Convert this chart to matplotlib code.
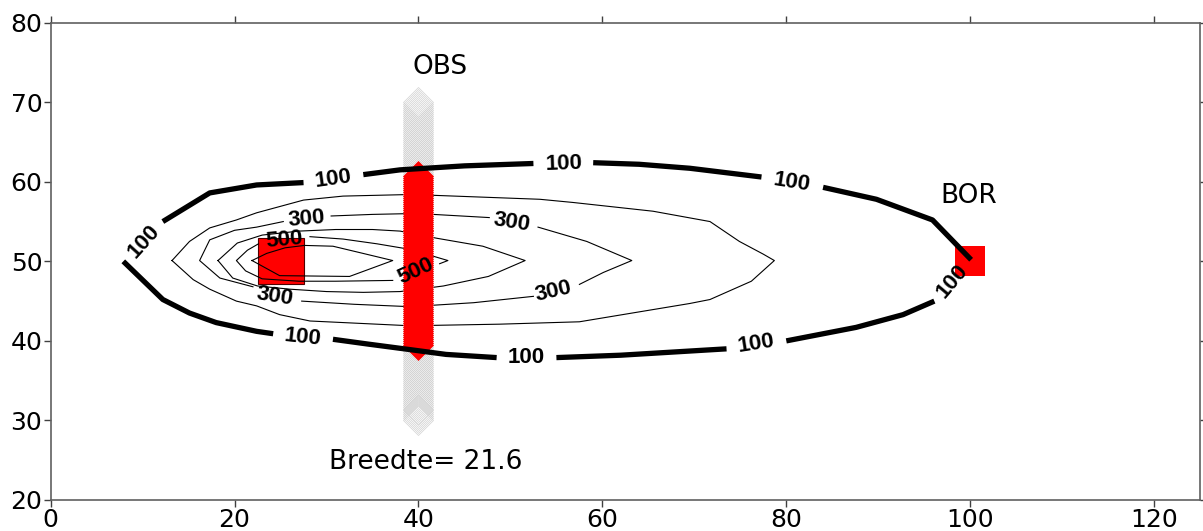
import matplotlib
matplotlib.use('Agg')
import matplotlib.pyplot as plt
import numpy as np

# axis setup
x_ticks = [0, 20, 40, 60, 80, 100, 120]
y_ticks = [20, 30, 40, 50, 60, 70, 80]

# concentration contours (x, y vertices); gaps are where labels sit
c100 = [
    [(12.2, 55.0), (17.3, 58.6), (22.4, 59.6), (27.5, 59.9)],
    [(34.0, 60.9), (38.0, 61.5), (45.0, 62.0), (52.5, 62.3)],
    [(59.0, 62.4), (64.0, 62.2), (69.5, 61.7), (77.3, 60.6)],
    [(84.0, 59.3), (89.8, 57.8), (95.9, 55.2), (100.1, 50.2)],
    [(96.1, 45.0), (92.7, 43.3), (87.6, 41.7), (80.0, 40.0)],
    [(73.5, 39.0), (70.6, 38.8), (62.0, 38.2), (55.0, 37.9)],
    [(48.5, 37.9), (43.0, 38.3), (39.1, 38.9), (34.5, 39.6), (30.7, 40.2)],
    [(24.2, 40.9), (22.4, 41.2), (18.0, 42.3), (15.1, 43.5), (12.2, 45.2), (7.9, 50.0)],
]
c200 = [
    [(13.2, 50.1), (15.1, 52.5), (17.3, 54.2), (20.2, 55.2), (22.4, 56.1), (27.5, 57.7),
     (31.8, 58.2), (39.1, 58.4), (41.6, 58.3), (53.2, 57.8), (56.8, 57.4), (65.5, 56.3),
     (71.7, 55.0), (74.9, 52.5), (77.5, 50.9), (78.7, 50.1), (76.2, 47.5), (71.7, 45.2),
     (69.5, 44.7), (57.5, 42.4), (48.8, 42.1), (39.1, 41.9), (28.2, 42.5), (24.9, 43.3),
     (22.4, 44.4), (20.2, 45.0), (17.3, 46.5), (15.5, 47.7), (13.2, 50.1)],
]
c300 = [
    [(25.3, 55.0), (22.4, 54.3), (20.0, 53.9), (17.3, 52.7), (16.2, 50.1), (18.4, 47.9), (22.0, 46.8)],
    [(30.5, 55.7), (35.0, 55.9), (39.1, 56.0), (41.6, 55.9), (47.7, 55.5)],
    [(53.0, 54.3), (58.3, 52.5), (63.2, 50.1), (60.1, 48.6), (57.5, 47.1)],
    [(52.5, 45.6), (46.0, 44.8), (39.1, 44.3), (33.0, 44.6), (27.3, 45.0)],
]
c400 = [
    [(18.2, 50.1), (20.3, 52.3), (23.0, 53.3), (27.0, 53.8), (31.0, 54.0), (35.0, 54.0),
     (38.0, 53.8), (42.0, 52.9), (47.0, 51.9), (51.6, 50.1), (47.6, 48.1), (42.7, 46.9),
     (38.0, 46.2), (34.0, 46.1), (30.0, 46.2), (26.0, 46.5), (22.5, 46.9), (19.8, 47.9),
     (18.2, 50.1)],
]
c500 = [
    [(22.6, 52.2), (21.4, 51.4), (20.2, 50.1), (21.2, 48.8), (23.0, 47.8), (27.0, 47.5),
     (31.0, 47.5), (37.2, 47.6)],
    [(28.2, 53.1), (31.8, 52.8), (35.5, 52.2), (39.1, 51.5), (43.2, 50.1), (42.3, 49.7)],
]
c600 = [
    [(21.9, 50.1), (23.5, 51.0), (25.5, 51.7), (27.6, 52.0), (30.7, 51.9), (33.6, 51.1),
     (37.2, 50.1), (32.5, 48.1), (24.9, 48.2), (21.9, 50.1)],
]

# contour labels: text, x, y, rotation
clabels = [
    ("100", 10.1, 52.5, 48), ("100", 30.7, 60.3, 8), ("100", 55.8, 62.2, 2),
    ("100", 80.6, 59.9, -9), ("100", 98.1, 47.5, 50), ("100", 76.7, 39.6, 9),
    ("100", 51.7, 37.9, 0), ("100", 27.4, 40.4, -6),
    ("300", 27.8, 55.3, 5), ("300", 50.1, 54.9, -9), ("300", 24.4, 45.6, -9),
    ("300", 54.7, 46.2, 13),
    ("500", 25.4, 52.7, 5), ("500", 39.7, 48.8, 25),
]

# wells: source and receptor
well_x = [25, 100]
well_y = [50, 50]
well_ms = [33, 22]

# observation line at x = 40
obs_x = 40
obs_bottom, obs_top, obs_step = 30.0, 70.0, 0.25
hit_bottom, hit_top = 39.5, 60.8

texts = [("OBS", 42.4, 74.4), ("BOR", 99.8, 58.2), ("Breedte= 21.6", 40.8, 24.8)]


fig = plt.figure(figsize=(12.03, 5.31), dpi=100)
ax = fig.add_axes([0.0421, 0.0584, 0.9555, 0.8989])
ax.set_xlim(0, 125)
ax.set_ylim(20, 80)

# wells
ax.plot(well_x[:1], well_y[:1], 's', color='red', ms=well_ms[0], mec='#500000', mew=0.8, zorder=1)
ax.plot(well_x[1:], well_y[1:], 's', color='red', ms=well_ms[1], mec='red', mew=0, zorder=1)

# observation column: hollow grey diamonds, red filled where c > 100
obs_y = np.arange(obs_bottom, obs_top + obs_step / 2, obs_step)
ax.plot(np.full(len(obs_y), obs_x), obs_y, 'D', ms=15, mfc='none', mec='#d2d2d2', mew=0.5,
        linestyle='none', zorder=3)
hit_y = obs_y[(obs_y >= hit_bottom) & (obs_y <= hit_top)]
ax.plot(np.full(len(hit_y), obs_x), hit_y, 'D', ms=15, mfc='red', mec='red', mew=0.5,
        linestyle='none', zorder=4)

# thin contours under the column, thick 100 over it
for level in [c200, c300, c400, c500, c600]:
    for seg in level:
        xs, ys = zip(*seg)
        ax.plot(xs, ys, color='black', lw=0.8, zorder=2)
for seg in c100:
    xs, ys = zip(*seg)
    ax.plot(xs, ys, color='black', lw=3.8, solid_capstyle='butt', zorder=5)

for t, x, y, r in clabels:
    ax.text(x, y, t, rotation=r, ha='center', va='center', fontsize=16,
            fontweight='bold', family='Liberation Sans', zorder=6)

for t, x, y in texts:
    ax.text(x, y, t, ha='center', va='center', fontsize=19, family='DejaVu Sans', zorder=6)

ax.set_xticks(x_ticks)
ax.set_yticks(y_ticks)
ax.tick_params(direction='out', length=5, width=1, top=True, right=True,
               labelsize=18, pad=1, color='#404040')
for s in ax.spines.values():
    s.set_color('#606060')
    s.set_linewidth(1.2)

fig.savefig('out.png', dpi=100)
